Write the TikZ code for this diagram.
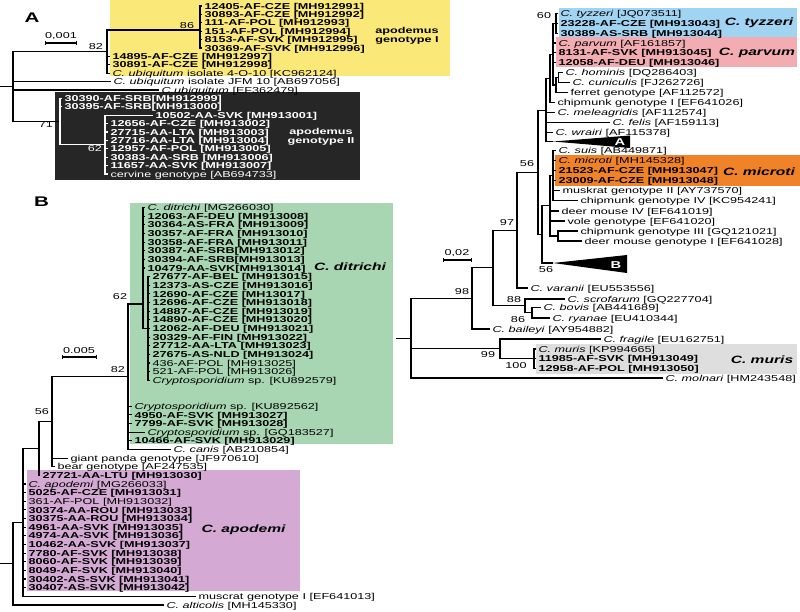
\documentclass[tikz,border=0pt]{standalone}
\usepackage{fontspec}
\setmainfont{Liberation Sans}[FakeStretch=1.47]
\usepackage{tikz}
\usetikzlibrary{arrows.meta}

\newcommand{\leaffont}{\fontsize{8.6}{9}\selectfont}
\newcommand{\cladefont}{\fontsize{10.6}{11}\selectfont\bfseries\itshape}

\definecolor{yellowbox}{RGB}{250,232,120}
\definecolor{blackbox}{RGB}{38,38,38}
\definecolor{greenbox}{RGB}{168,214,178}
\definecolor{purplebox}{RGB}{212,170,212}
\definecolor{bluebox}{RGB}{160,212,242}
\definecolor{pinkbox}{RGB}{242,172,178}
\definecolor{orangebox}{RGB}{240,130,40}
\definecolor{graybox}{RGB}{222,222,222}

\tikzset{
	every path/.style={line width=1.1pt},
	leaf/.style={
		anchor=west,
		inner xsep=2pt,
		inner ysep=0pt,
		text height=6.2pt,
		text depth=0pt,
		font=\leaffont
	},
	bleaf/.style={
		leaf,
		font=\leaffont\bfseries
	},
	boot/.style={
		inner sep=0pt,
		font=\leaffont
	},
	gtype/.style={
		inner sep=0pt,
		align=center,
		font=\leaffont\bfseries
	},
	clade/.style={
		inner sep=0pt,
		font=\cladefont
	},
	panel/.style={
		inner sep=0pt,
		font=\fontsize{14}{14}\selectfont\bfseries
	},
	tri/.style={
		inner sep=0pt,
		text=white,
		font=\fontsize{10}{10}\selectfont\bfseries
	},
	scalebar/.style={
		{Bar[width=4pt]}-{Bar[width=4pt]}
	},
}

\begin{document}
\begin{tikzpicture}[x=1pt,y=-1pt]
		\useasboundingbox (0,0) rectangle (800,612);

		\fill[yellowbox] 		(110,0) rectangle (450,76);
		\fill[blackbox] 		(55,92) rectangle (360,180);
		\fill[bluebox] 			(559,8) rectangle (797,37.5);
		\fill[pinkbox] 			(556,37.5) rectangle (797,67);
		\fill[orangebox] 		(555,155) rectangle (800,186);
		\fill[graybox] 			(536,344) rectangle (797,374);
		\fill[greenbox] 		(130,203) rectangle (393,444);
		\fill[purplebox] 		(27,470) rectangle (300,591);

%*********

		\node[panel] 			(labA) at (32,18) {A};
		\node[boot] 			(scA) at (61,36) {0,001};
		\coordinate 			(sA1) at (45,43);
		\coordinate 			(sA2) at (77,43);
		\draw[scalebar] 		(sA1) -- (sA2);

		\coordinate 			(aR0) at (0,86.8);
		\coordinate 			(aR) at (13,86.8);
		\coordinate 			(a82) at (107,51.6);
		\coordinate 			(a86) at (200,30);
		\coordinate 			(a71) at (60,121.5);
		\coordinate 			(a62) at (105,144.6);

		\node[bleaf] 			(a1) at (202,6) {12405-AF-CZE [MH912991]};
		\node[bleaf] 			(a2) at (202,14.4) {30893-AF-CZE [MH912992]};
		\node[bleaf] 			(a3) at (202,22.8) {111-AF-POL [MH912993]};
		\node[bleaf] 			(a4) at (202,31.2) {151-AF-POL [MH912994]};
		\node[bleaf] 			(a5) at (202,39.6) {8153-AF-SVK [MH912995]};
		\node[bleaf] 			(a6) at (202,48) {30369-AF-SVK [MH912996]};
		\node[bleaf] 			(a7) at (110,56.4) {14895-AF-CZE [MH912997]};
		\node[bleaf] 			(a8) at (110,64.8) {30891-AF-CZE [MH912998]};
		\node[leaf] 			(a9) at (110,73.2) {\textit{C. ubiquitum} isolate 4-O-10 [KC962124]};
		\node[leaf] 			(a10) at (111,81.6) {\textit{C. ubiquitum} isolate JFM 10 [AB697056]};
		\node[leaf] 			(a11) at (159,90) {\textit{C.ubiquitum} [EF362479]};
		\node[bleaf,text=white] (a12) at (62,98.4) {30390-AF-SRB[MH912999]};
		\node[bleaf,text=white] (a13) at (62,106.8) {30395-AF-SRB[MH913000]};
		\node[bleaf,text=white] (a14) at (153,115.2) {10502-AA-SVK [MH913001]};
		\node[bleaf,text=white] (a15) at (108,123.6) {12656-AF-CZE [MH913002]};
		\node[bleaf,text=white] (a16) at (108,132) {27715-AA-LTA [MH913003]};
		\node[bleaf,text=white] (a17) at (108,140.4) {27716-AA-LTA [MH913004]};
		\node[bleaf,text=white] (a18) at (108,148.8) {12957-AF-POL [MH913005]};
		\node[bleaf,text=white] (a19) at (108,157.2) {30383-AA-SRB [MH913006]};
		\node[bleaf,text=white] (a20) at (108,165.6) {11657-AA-SVK [MH913007]};
		\node[leaf,text=white] 	(a21) at (108,174) {cervine genotype [AB694733]};

		\node[boot] 			(bA86) at (187,26) {86};
		\node[boot] 			(bA82) at (96,47) {82};
		\node[boot] 			(bA71) at (46,125) {71};
		\node[boot,text=white] 	(bA62) at (95,149) {62};
		\node[gtype] 			(gtA1) at (407,35.5) {apodemus\\genotype I};
		\node[gtype,text=white] (gtA2) at (321,137) {apodemus\\genotype II};

		\draw 					(aR0) -- (aR);
		\draw 					(aR) |- (a82);
		\draw 					(aR) |- (a10.west);
		\draw 					(aR) |- (a11.west);
		\draw 					(aR) |- (a71);
		\draw 					(a82) |- (a86);
		\draw 					(a82) |- (a7.west);
		\draw 					(a82) |- (a8.west);
		\draw 					(a82) |- (a9.west);
		\draw 					(a86) |- (a1.west);
		\draw 					(a86) |- (a2.west);
		\draw 					(a86) |- (a3.west);
		\draw 					(a86) |- (a4.west);
		\draw 					(a86) |- (a5.west);
		\draw 					(a86) |- (a6.west);
		\draw[white] 			(a71) |- (a12.west);
		\draw[white] 			(a71) |- (a13.west);
		\draw[white] 			(a71) |- (a62);
		\draw[white] 			(a62) |- (a14.west);
		\draw[white] 			(a62) |- (a15.west);
		\draw[white] 			(a62) |- (a16.west);
		\draw[white] 			(a62) |- (a17.west);
		\draw[white] 			(a62) |- (a18.west);
		\draw[white] 			(a62) |- (a19.west);
		\draw[white] 			(a62) |- (a20.west);
		\draw[white] 			(a62) |- (a21.west);

%*********

		\node[boot] 			(scR) at (457,253) {0,02};
		\coordinate 			(sR1) at (443,260);
		\coordinate 			(sR2) at (472,260);
		\draw[scalebar] 		(sR1) -- (sR2);

		\coordinate 			(rR0) at (396,338.2);
		\coordinate 			(rR) at (411,338.2);
		\coordinate 			(r98n) at (472,298.4);
		\coordinate 			(rXn) at (493,267.8);
		\coordinate 			(r97n) at (517,230.1);
		\coordinate 			(r56n) at (538,172.3);
		\coordinate 			(r4n) at (546,110.1);
		\coordinate 			(r3n) at (550,78.2);
		\coordinate 			(r2n) at (553,54.1);
		\coordinate 			(r60n) at (556,23.2);
		\coordinate 			(rFn) at (556,85);
		\coordinate 			(rHn) at (558.5,77.6);
		\coordinate 			(tipA) at (553,141.5);
		\coordinate 			(rLn) at (542,234.4);
		\coordinate 			(rMn) at (550,205.8);
		\coordinate 			(rMin) at (553,175.6);
		\coordinate 			(rChn) at (558,236);
		\coordinate 			(tipB) at (553,263);
		\coordinate 			(r88n) at (525,305.5);
		\coordinate 			(r86n) at (532,312.7);
		\coordinate 			(r99n) at (500,348.8);
		\coordinate 			(r100n) at (534,358.7);

		\node[leaf] 			(r1) at (558,13.3) {\textit{C. tyzzeri} [JQ073511]};
		\node[bleaf] 			(r2) at (558,23.2) {23228-AF-CZE [MH913043]};
		\node[bleaf] 			(r3) at (558,33.1) {30389-AS-SRB [MH913044]};
		\node[leaf] 			(r4) at (556,43) {\textit{C. parvum} [AF161857]};
		\node[bleaf] 			(r5) at (556,52.9) {8131-AF-SVK [MH913045]};
		\node[bleaf] 			(r6) at (556,62.8) {12058-AF-DEU [MH913046]};
		\node[leaf] 			(r7) at (563,72.7) {\textit{C. hominis} [DQ286403]};
		\node[leaf] 			(r8) at (570,82.6) {\textit{C. cuniculis} [FJ262726]};
		\node[leaf] 			(r9) at (568,92.5) {ferret genotype [AF112572]};
		\node[leaf] 			(r10) at (555,102.4) {chipmunk genotype I [EF641026]};
		\node[leaf] 			(r11) at (555,112.3) {\textit{C. meleagridis} [AF112574]};
		\node[leaf] 			(r12) at (610,122.2) {\textit{C. felis} [AF159113]};
		\node[leaf] 			(r13) at (553,132.1) {\textit{C. wrairi} [AF115378]};
		\node[leaf] 			(r14) at (556,150.5) {\textit{C. suis} [AB449871]};
		\node[leaf] 			(r15) at (556,160.5) {\textit{C. microti} [MH145328]};
		\node[bleaf] 			(r16) at (556,170.5) {21523-AF-CZE [MH913047]};
		\node[bleaf] 			(r17) at (556,180.5) {23009-AF-CZE [MH913048]};
		\node[leaf] 			(r18) at (560,190.7) {muskrat genotype II [AY737570]};
		\node[leaf] 			(r19) at (578,200.8) {chipmunk genotype IV [KC954241]};
		\node[leaf] 			(r20) at (559,211) {deer mouse IV [EF641019]};
		\node[leaf] 			(r21) at (565,221) {vole genotype [EF641020]};
		\node[leaf] 			(r22) at (578,231) {chipmunk genotype III [GQ121021]};
		\node[leaf] 			(r23) at (582,241) {deer mouse genotype I [EF641028]};
		\node[leaf] 			(r24) at (528,288) {\textit{C. varanii} [EU553556]};
		\node[leaf] 			(r25) at (565,299) {\textit{C. scrofarum} [GQ227704]};
		\node[leaf] 			(r26) at (541,307.5) {\textit{C. bovis} [AB441689]};
		\node[leaf] 			(r27) at (550,318) {\textit{C. ryanae} [EU410344]};
		\node[leaf] 			(r28) at (490,329) {\textit{C. baileyi} [AY954882]};
		\node[leaf] 			(r29) at (601,339) {\textit{C. fragile} [EU162751]};
		\node[leaf] 			(r30) at (536,349) {\textit{C. muris} [KP994665]};
		\node[bleaf] 			(r31) at (536,358.7) {11985-AF-SVK [MH913049]};
		\node[bleaf] 			(r32) at (536,368.4) {12958-AF-POL [MH913050]};
		\node[leaf] 			(r33) at (663,378) {\textit{C. molnari} [HM243548]};

		\node[boot] 			(bR60) at (544,16) {60};
		\node[boot] 			(bR56a) at (527,164) {56};
		\node[boot] 			(bR97) at (507,223) {97};
		\node[boot] 			(bR56b) at (546,270) {56};
		\node[boot] 			(bR98) at (462,292) {98};
		\node[boot] 			(bR88) at (514,300) {88};
		\node[boot] 			(bR86) at (518,320) {86};
		\node[boot] 			(bR99) at (488,355) {99};
		\node[boot] 			(bR100) at (516,366) {100};

		\node[clade] 			(clTy) at (759,23) {C. tyzzeri};
		\node[clade] 			(clPa) at (757,53) {C. parvum};
		\node[clade] 			(clMi) at (759,172) {C. microti};
		\node[clade] 			(clMu) at (762,360) {C. muris};

		\fill 					(tipA) -- (630,135.5) -- (630,148) -- cycle;
		\fill 					(tipB) -- (627,255) -- (627,273) -- cycle;
		\node[tri] 				(triA) at (620,142) {A};
		\node[tri] 				(triB) at (616,265) {B};

		\draw 					(rR0) -- (rR);
		\draw 					(rR) |- (r98n);
		\draw 					(rR) |- (r99n);
		\draw 					(rR) |- (r33.west);
		\draw 					(r98n) |- (rXn);
		\draw 					(r98n) |- (r28.west);
		\draw 					(rXn) |- (r97n);
		\draw 					(rXn) |- (r88n);
		\draw 					(r88n) |- (r25.west);
		\draw 					(r88n) |- (r86n);
		\draw 					(r86n) |- (r26.west);
		\draw 					(r86n) |- (r27.west);
		\draw 					(r97n) |- (r56n);
		\draw 					(r97n) |- (r24.west);
		\draw 					(r56n) |- (r4n);
		\draw 					(r56n) |- (rLn);
		\draw 					(r4n) |- (r3n);
		\draw 					(r4n) |- (r11.west);
		\draw 					(r4n) |- (r12.west);
		\draw 					(r4n) |- (r13.west);
		\draw 					(r4n) |- (tipA);
		\draw 					(r3n) |- (r2n);
		\draw 					(r3n) |- (r10.west);
		\draw 					(r2n) |- (r60n);
		\draw 					(r2n) |- (r4.west);
		\draw 					(r2n) |- (r5.west);
		\draw 					(r2n) |- (r6.west);
		\draw 					(r2n) |- (rFn);
		\draw 					(r60n) |- (r1.west);
		\draw 					(r60n) |- (r2.west);
		\draw 					(r60n) |- (r3.west);
		\draw 					(rFn) |- (rHn);
		\draw 					(rFn) |- (r9.west);
		\draw 					(rHn) |- (r7.west);
		\draw 					(rHn) |- (r8.west);
		\draw 					(rLn) |- (rMn);
		\draw 					(rLn) |- (tipB);
		\draw 					(rMn) |- (rMin);
		\draw 					(rMn) |- (r20.west);
		\draw 					(rMn) |- (r21.west);
		\draw 					(rMn) |- (rChn);
		\draw 					(rMin) |- (r14.west);
		\draw 					(rMin) |- (r15.west);
		\draw 					(rMin) |- (r16.west);
		\draw 					(rMin) |- (r17.west);
		\draw 					(rMin) |- (r18.west);
		\draw 					(rMin) |- (r19.west);
		\draw 					(rChn) |- (r22.west);
		\draw 					(rChn) |- (r23.west);
		\draw 					(r99n) |- (r29.west);
		\draw 					(r99n) |- (r100n);
		\draw 					(r100n) |- (r30.west);
		\draw 					(r100n) |- (r31.west);
		\draw 					(r100n) |- (r32.west);

%*********

		\node[panel] 			(labB) at (41.5,202) {B};
		\node[boot] 			(scB) at (79,351) {0.005};
		\coordinate 			(sB1) at (62,357);
		\coordinate 			(sB2) at (97,357);
		\draw[scalebar] 		(sB1) -- (sB2);

		\coordinate 			(bR0) at (0,563.7);
		\coordinate 			(bR) at (13,563.7);
		\coordinate 			(bNb) at (23,522.4);
		\coordinate 			(bNa) at (39,448.5);
		\coordinate 			(b56n) at (52,421.7);
		\coordinate 			(b82n) at (128,376.7);
		\coordinate 			(b62n) at (143,304);
		\coordinate 			(bsub) at (148,328.5);

		\node[leaf] 			(b1) at (145,207.5) {\textit{C. ditrichi} [MG266030]};
		\node[bleaf] 			(b2) at (145,216.1) {12063-AF-DEU [MH913008]};
		\node[bleaf] 			(b3) at (145,224.8) {30364-AS-FRA [MH913009]};
		\node[bleaf] 			(b4) at (145,233.4) {30357-AF-FRA [MH913010]};
		\node[bleaf] 			(b5) at (145,242.1) {30358-AF-FRA [MH913011]};
		\node[bleaf] 			(b6) at (145,250.7) {30387-AF-SRB[MH913012]};
		\node[bleaf] 			(b7) at (145,259.3) {30394-AF-SRB[MH913013]};
		\node[bleaf] 			(b8) at (145,268) {10479-AA-SVK[MH913014]};
		\node[bleaf] 			(b9) at (150,276.6) {27677-AF-BEL [MH913015]};
		\node[bleaf] 			(b10) at (150,285.3) {12373-AS-CZE [MH913016]};
		\node[bleaf] 			(b11) at (150,293.9) {12690-AF-CZE [MH13017]};
		\node[bleaf] 			(b12) at (150,302.5) {12696-AF-CZE [MH913018]};
		\node[bleaf] 			(b13) at (150,311.2) {14887-AF-CZE [MH913019]};
		\node[bleaf] 			(b14) at (150,319.8) {14890-AF-CZE [MH913020]};
		\node[bleaf] 			(b15) at (150,328.5) {12062-AF-DEU [MH913021]};
		\node[bleaf] 			(b16) at (150,337.1) {30329-AF-FIN [MH913022]};
		\node[bleaf] 			(b17) at (150,345.7) {27712-AA-LTA [MH913023]};
		\node[bleaf] 			(b18) at (150,354.4) {27675-AS-NLD [MH913024]};
		\node[leaf] 			(b19) at (150,363) {436-AF-POL [MH913025]};
		\node[leaf] 			(b20) at (150,371.7) {521-AF-POL [MH913026]};
		\node[leaf] 			(b21) at (150,380.3) {\textit{Cryptosporidium} sp. [KU892579]};
		\node[leaf] 			(b22) at (132,406.2) {\textit{Cryptosporidium} sp. [KU892562]};
		\node[bleaf] 			(b23) at (132,414.9) {4950-AF-SVK [MH913027]};
		\node[bleaf] 			(b24) at (132,423.5) {7799-AF-SVK [MH913028]};
		\node[leaf] 			(b25) at (145,432.1) {\textit{Cryptosporidium} sp. [GQ183527]};
		\node[bleaf] 			(b26) at (132,440.8) {10466-AF-SVK [MH913029]};
		\node[leaf] 			(b27) at (171,449.4) {\textit{C. canis} [AB210854]};
		\node[leaf] 			(b28) at (68,458.1) {giant panda genotype [JF970610]};
		\node[leaf] 			(b29) at (55,466.7) {bear genotype [AF247535]};
		\node[bleaf] 			(b30) at (40,475.3) {27721-AA-LTU [MH913030]};
		\node[leaf] 			(b31) at (26,484) {\textit{C. apodemi} [MG266033]};
		\node[bleaf] 			(b32) at (26,492.6) {5025-AF-CZE [MH913031]};
		\node[leaf] 			(b33) at (26,501.3) {361-AF-POL [MH913032]};
		\node[bleaf] 			(b34) at (26,509.9) {30374-AA-ROU [MH913033]};
		\node[bleaf] 			(b35) at (26,518.5) {30375-AA-ROU [MH913034]};
		\node[bleaf] 			(b36) at (26,527.2) {4961-AA-SVK [MH913035]};
		\node[bleaf] 			(b37) at (26,535.8) {4974-AA-SVK [MH913036]};
		\node[bleaf] 			(b38) at (26,544.5) {10462-AA-SVK [MH913037]};
		\node[bleaf] 			(b39) at (26,553.1) {7780-AF-SVK [MH913038]};
		\node[bleaf] 			(b40) at (26,561.7) {8060-AF-SVK [MH913039]};
		\node[bleaf] 			(b41) at (26,570.4) {8049-AF-SVK [MH913040]};
		\node[bleaf] 			(b42) at (26,579) {30402-AS-SVK [MH913041]};
		\node[bleaf] 			(b43) at (26,587.7) {30407-AS-SVK [MH913042]};
		\node[leaf] 			(b44) at (196,596.3) {muscrat genotype I [EF641013]};
		\node[leaf] 			(b45) at (164,605) {\textit{C. alticolis} [MH145330]};

		\node[boot] 			(bB62) at (120,297) {62};
		\node[boot] 			(bB82) at (118,370) {82};
		\node[boot] 			(bB56) at (42,412) {56};
		\node[clade] 			(clDi) at (350,267) {C. ditrichi};
		\node[clade] 			(clAp) at (243.5,530) {C. apodemi};

		\draw 					(bR0) -- (bR);
		\draw 					(bR) |- (bNb);
		\draw 					(bR) |- (b45.west);
		\draw 					(bNb) |- (bNa);
		\draw 					(bNb) |- (b31.west);
		\draw 					(bNb) |- (b32.west);
		\draw 					(bNb) |- (b33.west);
		\draw 					(bNb) |- (b34.west);
		\draw 					(bNb) |- (b35.west);
		\draw 					(bNb) |- (b36.west);
		\draw 					(bNb) |- (b37.west);
		\draw 					(bNb) |- (b38.west);
		\draw 					(bNb) |- (b39.west);
		\draw 					(bNb) |- (b40.west);
		\draw 					(bNb) |- (b41.west);
		\draw 					(bNb) |- (b42.west);
		\draw 					(bNb) |- (b43.west);
		\draw 					(bNb) |- (b44.west);
		\draw 					(bNa) |- (b56n);
		\draw 					(bNa) |- (b30.west);
		\draw 					(b56n) |- (b82n);
		\draw 					(b56n) |- (b28.west);
		\draw 					(b56n) |- (b29.west);
		\draw 					(b82n) |- (b62n);
		\draw 					(b82n) |- (b22.west);
		\draw 					(b82n) |- (b23.west);
		\draw 					(b82n) |- (b24.west);
		\draw 					(b82n) |- (b25.west);
		\draw 					(b82n) |- (b26.west);
		\draw 					(b82n) |- (b27.west);
		\draw 					(b62n) |- (b1.west);
		\draw 					(b62n) |- (b2.west);
		\draw 					(b62n) |- (b3.west);
		\draw 					(b62n) |- (b4.west);
		\draw 					(b62n) |- (b5.west);
		\draw 					(b62n) |- (b6.west);
		\draw 					(b62n) |- (b7.west);
		\draw 					(b62n) |- (b8.west);
		\draw 					(b62n) |- (bsub);
		\draw 					(bsub) |- (b9.west);
		\draw 					(bsub) |- (b10.west);
		\draw 					(bsub) |- (b11.west);
		\draw 					(bsub) |- (b12.west);
		\draw 					(bsub) |- (b13.west);
		\draw 					(bsub) |- (b14.west);
		\draw 					(bsub) |- (b15.west);
		\draw 					(bsub) |- (b16.west);
		\draw 					(bsub) |- (b17.west);
		\draw 					(bsub) |- (b18.west);
		\draw 					(bsub) |- (b19.west);
		\draw 					(bsub) |- (b20.west);
		\draw 					(bsub) |- (b21.west);

	\end{tikzpicture}
\end{document}
